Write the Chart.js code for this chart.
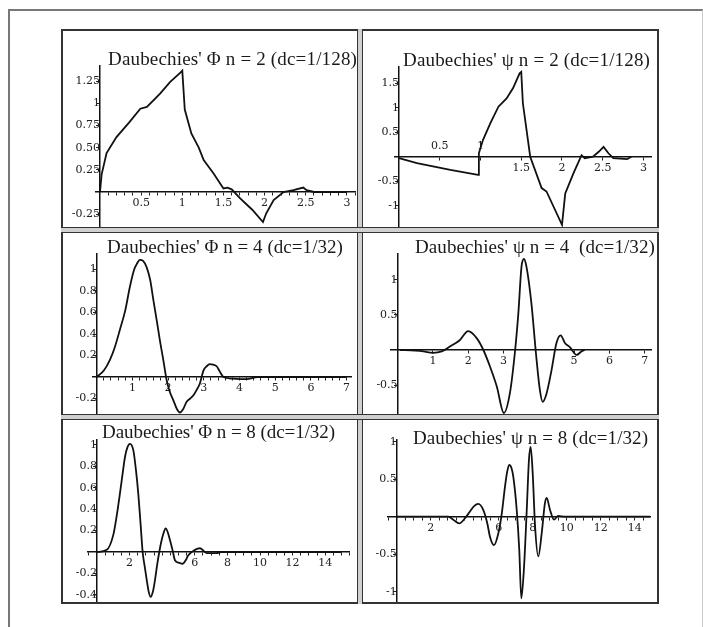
<!DOCTYPE html>
<html><head><meta charset="utf-8">
<script src="https://cdn.jsdelivr.net/npm/chart.js@4.4.1/dist/chart.umd.min.js"></script>
<style>
html,body{margin:0;padding:0;background:#fff;}
body{width:703px;height:627px;position:relative;overflow:hidden;}
.abs{position:absolute;box-sizing:border-box;}
canvas{position:absolute;}
</style></head><body>
<div class="abs" style="left:8px;top:9px;width:695px;height:640px;border-left:2px solid #777;border-top:2px solid #777;border-right:1px solid #ccc;"></div>
<div class="abs" style="left:61px;top:29px;width:598px;height:575px;border:2px solid #333;"></div>
<div class="abs" style="left:357px;top:29px;width:6px;height:575px;border-left:1px solid #333;border-right:1px solid #333;background:#d0d0d0;"></div>
<div class="abs" style="left:61px;top:227px;width:598px;height:6px;border-top:1px solid #333;border-bottom:1px solid #333;background:#d0d0d0;"></div>
<div class="abs" style="left:61px;top:414px;width:598px;height:6px;border-top:1px solid #333;border-bottom:1px solid #333;background:#d0d0d0;"></div>
<canvas id="c1"></canvas><canvas id="c2"></canvas><canvas id="c3"></canvas>
<canvas id="c4"></canvas><canvas id="c5"></canvas><canvas id="c6"></canvas>
<script>
// ---------- data ----------
const phi2X = [0, 0.02, 0.08, 0.2, 0.35, 0.49, 0.57, 0.73, 0.85, 0.98, 1.0, 1.03, 1.11, 1.2, 1.26, 1.38, 1.5, 1.55, 1.6, 1.7, 1.85, 1.98, 2.02, 2.11, 2.23, 2.35, 2.47, 2.51, 2.6, 2.8, 3.0];
const phi2Y = [0, 0.2, 0.44, 0.62, 0.78, 0.94, 0.96, 1.11, 1.24, 1.35, 1.37, 0.93, 0.66, 0.5, 0.36, 0.21, 0.04, 0.05, 0.03, -0.07, -0.2, -0.34, -0.24, -0.09, 0.0, 0.02, 0.05, 0.02, 0.0, 0.0, 0.0];

const psi2X = [0, 0.22, 0.63, 0.97, 0.98, 1.03, 1.12, 1.22, 1.32, 1.4, 1.48, 1.5, 1.52, 1.61, 1.75, 1.81, 2.0, 2.04, 2.14, 2.24, 2.28, 2.38, 2.45, 2.51, 2.57, 2.63, 2.8, 2.85];
const psi2Y = [-0.03, -0.13, -0.27, -0.37, 0.07, 0.34, 0.68, 1.02, 1.19, 1.4, 1.70, 1.73, 1.09, 0.0, -0.64, -0.71, -1.39, -0.75, -0.34, 0.03, -0.03, 0.0, 0.1, 0.2, 0.07, -0.03, -0.05, 0.0];

const phi4X = [0, 0.2, 0.37, 0.5, 0.65, 0.8, 0.93, 1.05, 1.12, 1.21, 1.3, 1.4, 1.5, 1.59, 1.68, 1.77, 1.87, 1.96, 2.05, 2.15, 2.25, 2.33, 2.42, 2.52, 2.62, 2.71, 2.8, 2.89, 2.99, 3.08, 3.17, 3.26, 3.36, 3.45, 3.55, 3.8, 4.2, 4.5, 5, 6, 7];
const phi4Y = [0, 0.06, 0.16, 0.27, 0.44, 0.62, 0.84, 1.0, 1.05, 1.09, 1.08, 1.02, 0.9, 0.71, 0.53, 0.34, 0.15, -0.03, -0.14, -0.22, -0.3, -0.33, -0.3, -0.23, -0.2, -0.17, -0.12, -0.06, 0.06, 0.1, 0.12, 0.115, 0.1, 0.05, 0.0, -0.015, -0.02, 0, 0, 0, 0];

const psi4X = [0.06, 0.5, 0.73, 1.0, 1.25, 1.48, 1.76, 2.0, 2.24, 2.43, 2.62, 2.81, 3.01, 3.18, 3.32, 3.42, 3.51, 3.58, 3.65, 3.79, 3.92, 4.03, 4.11, 4.22, 4.36, 4.5, 4.62, 4.74, 4.88, 5.07, 5.21, 5.3];
const psi4Y = [0, -0.01, -0.02, -0.04, -0.02, 0.05, 0.14, 0.27, 0.17, 0.0, -0.24, -0.52, -0.9, -0.62, -0.05, 0.52, 1.19, 1.30, 1.19, 0.67, -0.05, -0.57, -0.74, -0.62, -0.29, 0.1, 0.21, 0.1, 0.04, -0.07, -0.02, 0];

const phi8X = [0, 0.6, 1.0, 1.2, 1.41, 1.57, 1.72, 1.87, 2.02, 2.23, 2.38, 2.53, 2.67, 2.8, 2.93, 3.05, 3.17, 3.29, 3.43, 3.56, 3.69, 3.82, 3.95, 4.07, 4.21, 4.35, 4.48, 4.63, 4.79, 5.02, 5.26, 5.43, 5.6, 6.01, 6.32, 6.73, 7.34, 7.6, 8, 10, 15];
const phi8Y = [0, 0.02, 0.16, 0.33, 0.55, 0.73, 0.89, 0.98, 1.01, 0.95, 0.78, 0.55, 0.27, 0.0, -0.14, -0.26, -0.37, -0.42, -0.37, -0.26, -0.12, 0.0, 0.1, 0.17, 0.22, 0.18, 0.11, 0.02, -0.08, -0.1, -0.11, -0.08, -0.03, 0.02, 0.035, -0.01, -0.01, 0, 0, 0, 0];

const psi8X = [0, 3.04, 3.33, 3.68, 4.02, 4.31, 4.55, 4.8, 5.09, 5.33, 5.49, 5.72, 5.98, 6.18, 6.37, 6.5, 6.62, 6.75, 6.86, 7.06, 7.21, 7.33, 7.49, 7.65, 7.78, 7.88, 8.0, 8.14, 8.33, 8.53, 8.72, 8.82, 9.02, 9.25, 9.5, 9.9, 14.9];
const psi8Y = [0, 0, -0.04, -0.09, -0.02, 0.07, 0.14, 0.17, 0.09, -0.09, -0.27, -0.38, -0.22, 0.04, 0.4, 0.6, 0.69, 0.65, 0.53, 0.09, -0.44, -1.09, -0.67, 0.09, 0.76, 0.93, 0.58, -0.13, -0.53, -0.22, 0.18, 0.25, 0.09, -0.04, 0.01, 0, 0];

// tick labels
const xTicks1 = [0.5, 1, 1.5, 2, 2.5, 3];
const yTicks1 = [-0.25, 0.25, 0.5, 0.75, 1, 1.25];
const yLabels1 = ['-0.25', '0.25', '0.50', '0.75', '1', '1.25'];
const xTicks2 = [1.5, 2, 2.5, 3];
const xTicks2Above = [0.5, 1];
const yTicks2 = [-1, -0.5, 0.5, 1, 1.5];
const xTicks3 = [1, 2, 3, 4, 5, 6, 7];
const yTicks3 = [-0.2, 0.2, 0.4, 0.6, 0.8, 1];
const xTicks4 = [1, 2, 3, 5, 6, 7];
const yTicks4 = [-0.5, 0.5, 1];
const xTicks5 = [2, 6, 8, 10, 12, 14];
const yTicks5 = [-0.4, -0.2, 0.2, 0.4, 0.6, 0.8, 1];
const xTicks6 = [2, 6, 8, 10, 12, 14];
const yTicks6 = [-1, -0.5, 0.5, 1];

const titles = [
  "Daubechies' \u03A6 n = 2 (dc=1/128)",
  "Daubechies' \u03C8 n = 2 (dc=1/128)",
  "Daubechies' \u03A6 n = 4 (dc=1/32)",
  "Daubechies' \u03C8 n = 4  (dc=1/32)",
  "Daubechies' \u03A6 n = 8 (dc=1/32)",
  "Daubechies' \u03C8 n = 8 (dc=1/32)"
];

// ---------- layout (page pixels) ----------
const panels = [
  {id:'c1', xs:phi2X, ys:phi2Y, xt:xTicks1, xtAbove:[], yt:yTicks1, yl:yLabels1, minor:0.1, smooth:false,
   box:[63,31,294,196], x0:100, xu:82.3, xmin:-0.05, xmax:3.1, y0:192, yu:88.6, ymin:-0.39, ymax:1.43, tx:108, tr:357, ty:60},
  {id:'c2', xs:psi2X, ys:psi2Y, xt:xTicks2, xtAbove:xTicks2Above, yt:yTicks2, yl:null, minor:0, smooth:false,
   box:[363,31,294,196], x0:399, xu:81.5, xmin:-0.05, xmax:3.1, y0:156.7, yu:49, ymin:-1.43, ymax:1.84, tx:403, tr:650, ty:61},
  {id:'c3', xs:phi4X, ys:phi4Y, xt:xTicks3, xtAbove:[], yt:yTicks3, yl:null, minor:0.2, smooth:true,
   box:[63,232,294,182], x0:96.7, xu:35.7, xmin:-0.1, xmax:7.14, y0:377, yu:107.5, ymin:-0.34, ymax:1.15, tx:107, tr:343, ty:248},
  {id:'c4', xs:psi4X, ys:psi4Y, xt:xTicks4, xtAbove:[], yt:yTicks4, yl:null, minor:0, smooth:true,
   box:[363,232,294,182], x0:397.6, xu:35.3, xmin:-0.2, xmax:7.2, y0:350, yu:70, ymin:-0.91, ymax:1.38, tx:415, tr:655, ty:248},
  {id:'c5', xs:phi8X, ys:phi8Y, xt:xTicks5, xtAbove:[], yt:yTicks5, yl:null, minor:0.5, smooth:true,
   box:[63,419,294,183], x0:97, xu:16.3, xmin:-0.55, xmax:15.5, y0:552, yu:107, ymin:-0.46, ymax:1.05, tx:102, tr:335, ty:433},
  {id:'c6', xs:psi8X, ys:psi8Y, xt:xTicks6, xtAbove:[], yt:yTicks6, yl:null, minor:0.5, smooth:true,
   box:[363,419,294,183], x0:396.7, xu:17, xmin:-0.5, xmax:14.9, y0:516.7, yu:75, ymin:-1.13, ymax:1.03, tx:413, tr:648, ty:439}
];

const tickFont = {family:'DejaVu Serif', size:11};
const tickColor = '#222';
const zeroPad = s => { s.paddingLeft = 0; s.paddingRight = 0; s.paddingTop = 0; s.paddingBottom = 0; };
const near = (a, b) => Math.abs(a - b) < 1e-6;

// draws each panel's heading as canvas text, fitted between a left and a right edge
const panelTitle = {
  id: 'panelTitle',
  afterDraw(chart, args, o) {
    const ctx = chart.ctx;
    ctx.save();
    ctx.font = o.font;
    ctx.fillStyle = o.color;
    ctx.textBaseline = 'middle';
    ctx.textAlign = 'left';
    if ('letterSpacing' in ctx) {
      ctx.letterSpacing = '0px';
      const w = ctx.measureText(o.text).width;
      const sp = (o.width - w) / o.text.length;
      ctx.letterSpacing = sp.toFixed(2) + 'px';
    }
    ctx.fillText(o.text, o.x, o.y);
    ctx.restore();
  }
};

panels.forEach((p, i) => {
  const cv = document.getElementById(p.id);
  const [bl, bt, bw, bh] = p.box;
  cv.style.left = bl + 'px'; cv.style.top = bt + 'px';
  cv.width = bw; cv.height = bh;
  cv.style.width = bw + 'px'; cv.style.height = bh + 'px';

  const aL = p.x0 + p.xmin * p.xu - bl;
  const aR = p.x0 + p.xmax * p.xu - bl;
  const aT = p.y0 - p.ymax * p.yu - bt;
  const aB = p.y0 - p.ymin * p.yu - bt;

  // x tick positions: labelled ticks plus minor tick marks
  let xTickVals = p.xt.concat(p.xtAbove);
  if (p.minor > 0) {
    for (let k = Math.ceil(p.xmin / p.minor); k * p.minor <= p.xmax + 1e-9; k++) {
      const v = Math.round(k * p.minor * 1000) / 1000;
      if (v !== 0 && !xTickVals.some(t => near(t, v))) xTickVals.push(v);
    }
  }
  xTickVals.sort((a, b) => a - b);

  const scales = {
    x: {
      type: 'linear', position: {y: 0}, min: p.xmin, max: p.xmax,
      afterBuildTicks: s => { s.ticks = xTickVals.map(v => ({value: v})); },
      afterFit: zeroPad,
      ticks: {
        autoSkip: false, maxRotation: 0, padding: 2, font: tickFont, color: tickColor,
        callback: v => { const t = p.xt.find(a => near(a, v)); return t === undefined ? '' : String(t); }
      },
      grid: {drawOnChartArea: false, drawTicks: true, tickLength: 3, color: '#222', lineWidth: 1},
      border: {display: true, color: '#111', width: 1.5}
    },
    y: {
      type: 'linear', position: {x: 0}, min: p.ymin, max: p.ymax,
      afterBuildTicks: s => { s.ticks = p.yt.map(v => ({value: v})); },
      afterFit: zeroPad,
      ticks: {
        autoSkip: false, padding: 2, font: tickFont, color: tickColor,
        callback: (v, idx) => p.yl ? p.yl[idx] : String(v)
      },
      grid: {drawOnChartArea: false, drawTicks: true, tickLength: 3, color: '#222', lineWidth: 1},
      border: {display: true, color: '#111', width: 1.5}
    }
  };
  if (p.xtAbove.length) {
    scales.xa = {
      type: 'linear', position: {y: 0}, min: p.xmin, max: p.xmax,
      afterBuildTicks: s => { s.ticks = p.xtAbove.map(v => ({value: v})); },
      afterFit: zeroPad,
      ticks: {autoSkip: false, maxRotation: 0, padding: -17, font: tickFont, color: tickColor,
        callback: v => String(v)},
      grid: {display: false, drawTicks: false},
      border: {display: false}
    };
  }

  new Chart(cv, {
    type: 'line',
    data: {
      datasets: [{
        data: p.xs.map((x, k) => ({x: x, y: p.ys[k]})),
        borderColor: '#111', borderWidth: 1.8, pointRadius: 0, fill: false,
        tension: 0, cubicInterpolationMode: p.smooth ? 'monotone' : 'default', clip: 6
      }]
    },
    options: {
      responsive: false, animation: false, devicePixelRatio: 1,
      layout: {padding: {left: aL, right: bw - aR, top: aT, bottom: bh - aB}},
      plugins: {
        legend: {display: false}, tooltip: {enabled: false}, title: {display: false},
        panelTitle: {text: titles[i], x: p.tx - bl, y: p.ty - bt, width: p.tr - p.tx,
                     font: '19px "Liberation Serif"', color: '#1a1a1a'}
      },
      scales: scales
    },
    plugins: [panelTitle]
  });
});
</script>
</body></html>
